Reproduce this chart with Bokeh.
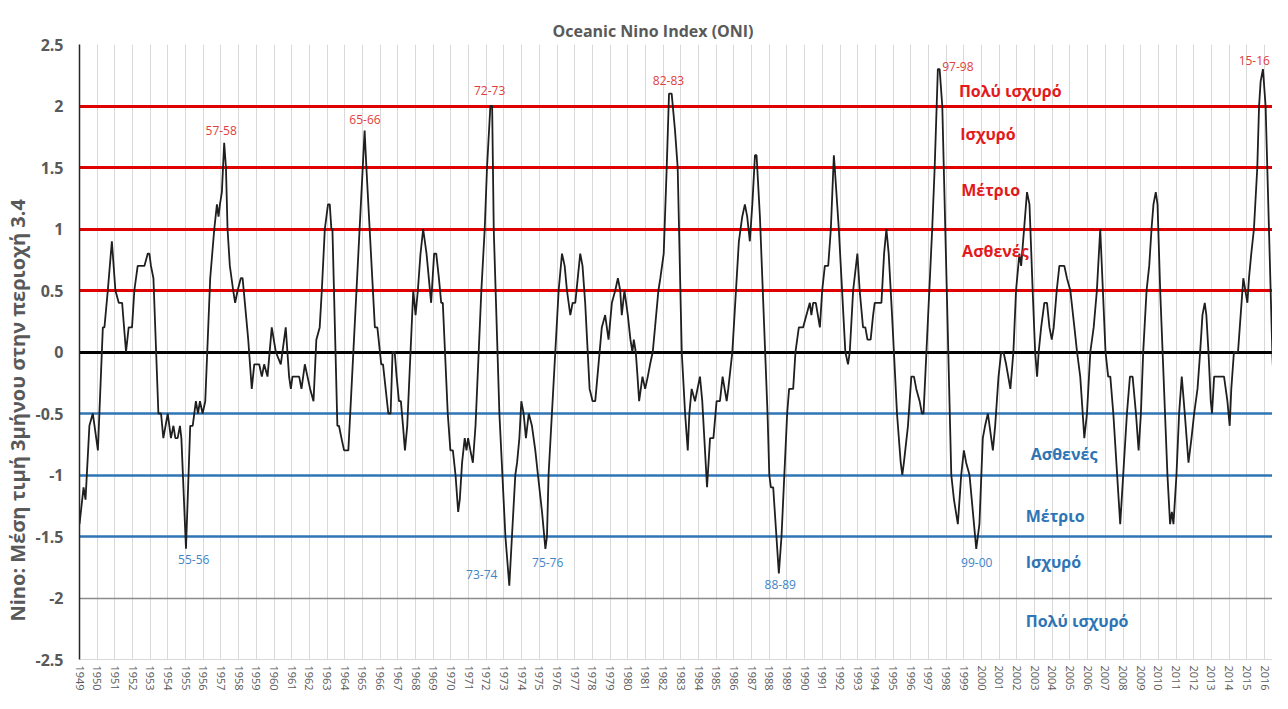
from bokeh.plotting import figure
from bokeh.models import ColumnDataSource, FixedTicker, Title
from bokeh.core.properties import value
from bokeh.embed import file_html
from bokeh.resources import INLINE

# ---- ONI line (x = position on the year axis) ----
x_a = [1949.00, 1949.23, 1949.34, 1949.56, 1949.75, 1949.85, 1950.04, 1950.32, 1950.41, 1950.60,
       1950.83, 1951.03, 1951.22, 1951.41, 1951.63, 1951.78, 1951.97, 1952.10, 1952.29, 1952.67,
       1952.86, 1952.95, 1953.04, 1953.18, 1953.46, 1953.61, 1953.74, 1953.99, 1954.17, 1954.31,
       1954.42, 1954.55, 1954.68, 1954.76, 1955.02, 1955.26, 1955.40, 1955.58, 1955.70, 1955.81,
       1955.96, 1956.11, 1956.39, 1956.62, 1956.77, 1956.86, 1956.94, 1957.05, 1957.18, 1957.28,
       1957.37, 1957.50, 1957.69, 1957.80, 1957.94, 1958.12, 1958.22, 1958.35, 1958.54, 1958.74,
       1958.88, 1959.16, 1959.31, 1959.44, 1959.63, 1959.87, 1960.10]
v_a = [-1.4, -1.1, -1.2, -0.6, -0.5, -0.6, -0.8, 0.2, 0.2, 0.5,
       0.9, 0.5, 0.4, 0.4, 0.0, 0.2, 0.2, 0.5, 0.7, 0.7,
       0.8, 0.8, 0.7, 0.6, -0.5, -0.5, -0.7, -0.5, -0.7, -0.6,
       -0.7, -0.7, -0.6, -0.7, -1.6, -0.6, -0.6, -0.4, -0.5, -0.4,
       -0.5, -0.4, 0.6, 1.0, 1.2, 1.1, 1.2, 1.3, 1.7, 1.5,
       1.0, 0.7, 0.5, 0.4, 0.5, 0.6, 0.6, 0.4, 0.1, -0.3,
       -0.1, -0.1, -0.2, -0.1, -0.2, 0.2, 0.0]

x_b = [1960.38, 1960.66, 1960.85, 1960.95, 1961.04, 1961.42, 1961.55, 1961.74, 1961.89, 1962.04,
       1962.23, 1962.39, 1962.58, 1962.70, 1962.87, 1963.05, 1963.15, 1963.24, 1963.30, 1963.58,
       1963.67, 1963.81, 1963.96, 1964.20, 1965.12, 1965.22, 1965.70, 1965.84, 1966.06, 1966.16,
       1966.46, 1966.59, 1966.70, 1966.82, 1966.93, 1967.06, 1967.17, 1967.29, 1967.40, 1967.53,
       1967.87, 1968.00, 1968.13, 1968.28, 1968.43, 1968.62, 1968.75, 1968.88, 1969.05, 1969.17,
       1969.32, 1969.45, 1969.54, 1969.82, 1969.97, 1970.11, 1970.26, 1970.41, 1970.50, 1970.63,
       1970.78, 1970.88, 1970.97, 1971.10, 1971.24, 1971.39]
v_b = [-0.1, 0.2, -0.2, -0.3, -0.2, -0.2, -0.3, -0.1, -0.2, -0.3,
       -0.4, 0.1, 0.2, 0.5, 1.0, 1.2, 1.2, 1.0, 1.0, -0.6,
       -0.6, -0.7, -0.8, -0.8, 1.8, 1.5, 0.2, 0.2, -0.1, -0.1,
       -0.5, -0.5, 0.0, 0.0, -0.2, -0.4, -0.4, -0.6, -0.8, -0.6,
       0.5, 0.3, 0.5, 0.8, 1.0, 0.8, 0.6, 0.4, 0.8, 0.8,
       0.6, 0.4, 0.4, -0.5, -0.8, -0.8, -1.0, -1.3, -1.2, -0.9,
       -0.7, -0.8, -0.7, -0.8, -0.9, -0.6]

x_c = [1971.57, 1971.72, 1971.91, 1972.04, 1972.23, 1972.33, 1972.42, 1972.74, 1973.08, 1973.30,
       1973.45, 1973.64, 1973.74, 1973.87, 1973.98, 1974.11, 1974.24, 1974.40, 1974.58, 1974.77,
       1974.92, 1975.15, 1975.34, 1975.43, 1975.52, 1976.09, 1976.28, 1976.43, 1976.56, 1976.75,
       1976.88, 1977.03, 1977.31, 1977.44, 1977.59, 1977.84, 1978.01, 1978.16, 1978.53, 1978.72,
       1978.91, 1979.10, 1979.29, 1979.44, 1979.57, 1979.66, 1979.81, 1980.00, 1980.15, 1980.26,
       1980.34, 1980.45, 1980.55, 1980.64, 1980.83, 1980.98, 1981.13, 1981.26, 1981.41, 1981.54,
       1981.73, 1981.84, 1982.03, 1982.20, 1982.33, 1982.48, 1982.67, 1982.82]
v_c = [0.0, 0.5, 1.0, 1.5, 2.0, 2.0, 1.0, -0.5, -1.5, -1.9,
       -1.5, -1.0, -0.9, -0.7, -0.4, -0.5, -0.7, -0.5, -0.6, -0.8,
       -1.0, -1.3, -1.6, -1.5, -1.0, 0.5, 0.8, 0.7, 0.5, 0.3,
       0.4, 0.4, 0.8, 0.7, 0.4, -0.3, -0.4, -0.4, 0.2, 0.3,
       0.1, 0.4, 0.5, 0.6, 0.5, 0.3, 0.5, 0.3, 0.1, 0.0,
       0.1, 0.0, -0.2, -0.4, -0.2, -0.3, -0.2, -0.1, 0.0, 0.2,
       0.5, 0.6, 0.8, 1.5, 2.1, 2.1, 1.8, 1.5]

x_d = [1983.05, 1983.24, 1983.39, 1983.48, 1983.61, 1983.80, 1984.08, 1984.21, 1984.48, 1984.65,
       1984.84, 1985.02, 1985.21, 1985.36, 1985.59, 1985.68, 1985.91, 1986.28, 1986.47, 1986.62,
       1986.75, 1986.90, 1987.04, 1987.19, 1987.28, 1987.47, 1987.90, 1988.00, 1988.09, 1988.22,
       1988.54, 1988.69, 1989.01, 1989.12, 1989.35, 1989.48, 1989.67, 1989.91, 1990.10, 1990.29,
       1990.38, 1990.48, 1990.63, 1990.86, 1990.99, 1991.14, 1991.33, 1991.48, 1991.65, 1991.70,
       1991.93, 1992.30, 1992.45, 1992.55, 1992.74, 1992.98, 1993.11, 1993.30, 1993.43, 1993.55,
       1993.73, 1993.87, 1993.96, 1994.15]
v_d = [0.0, -0.5, -0.8, -0.5, -0.3, -0.4, -0.2, -0.4, -1.1, -0.7,
       -0.7, -0.4, -0.4, -0.2, -0.4, -0.3, 0.0, 0.9, 1.1, 1.2,
       1.1, 0.9, 1.2, 1.6, 1.6, 1.1, -0.5, -1.0, -1.1, -1.1,
       -1.8, -1.5, -0.5, -0.3, -0.3, 0.0, 0.2, 0.2, 0.3, 0.4,
       0.3, 0.4, 0.4, 0.2, 0.5, 0.7, 0.7, 1.0, 1.6, 1.5,
       1.0, 0.0, -0.1, 0.0, 0.5, 0.8, 0.5, 0.2, 0.2, 0.1,
       0.1, 0.3, 0.4, 0.4]

x_e = [1994.34, 1994.49, 1994.62, 1994.75, 1994.94, 1995.22, 1995.43, 1995.52, 1995.61, 1995.84,
       1996.03, 1996.18, 1996.31, 1996.50, 1996.63, 1996.72, 1997.21, 1997.35, 1997.53, 1997.63,
       1997.78, 1998.29, 1998.44, 1998.66, 1998.85, 1999.00, 1999.13, 1999.32, 1999.51, 1999.70,
       1999.88, 2000.07, 2000.20, 2000.36, 2000.64, 2000.77, 2000.96, 2001.11, 2001.24, 2001.39,
       2001.63, 2001.80, 2001.95, 2002.14, 2002.24, 2002.57, 2002.71, 2002.89, 2003.03, 2003.14,
       2003.23, 2003.37, 2003.55, 2003.70, 2003.84, 2003.97, 2004.08, 2004.25, 2004.40, 2004.68,
       2004.83, 2005.02, 2005.25, 2005.40]
v_e = [0.4, 0.8, 1.0, 0.8, 0.3, -0.5, -0.9, -1.0, -0.9, -0.6,
       -0.2, -0.2, -0.3, -0.4, -0.5, -0.5, 1.0, 1.5, 2.3, 2.3,
       2.0, -1.0, -1.2, -1.4, -1.0, -0.8, -0.9, -1.0, -1.3, -1.6,
       -1.4, -0.7, -0.6, -0.5, -0.8, -0.6, -0.2, 0.0, 0.0, -0.1,
       -0.3, 0.0, 0.5, 0.8, 0.7, 1.3, 1.2, 0.5, 0.0, -0.2,
       0.0, 0.2, 0.4, 0.4, 0.2, 0.1, 0.2, 0.5, 0.7, 0.7,
       0.6, 0.5, 0.2, 0.0]

x_f = [2005.58, 2005.72, 2005.81, 2005.96, 2006.15, 2006.34, 2006.52, 2006.71, 2006.86, 2007.01,
       2007.16, 2007.28, 2007.45, 2007.84, 2008.22, 2008.39, 2008.54, 2008.73, 2008.88, 2009.01,
       2009.14, 2009.33, 2009.48, 2009.61, 2009.72, 2009.85, 2009.95, 2010.10, 2010.51, 2010.66,
       2010.76, 2010.85, 2011.02, 2011.17, 2011.32, 2011.49, 2011.70, 2011.87, 2012.02, 2012.21,
       2012.36, 2012.49, 2012.62, 2012.71, 2012.83, 2012.96, 2013.03, 2013.15, 2013.71, 2013.90,
       2014.03, 2014.12, 2014.27, 2014.50, 2014.65, 2014.80, 2015.03, 2015.12, 2015.25, 2015.40,
       2015.59, 2015.69, 2015.78, 2015.91, 2016.06, 2016.25, 2016.44, 2016.57, 2016.68, 2016.81,
       2016.95, 2017.10, 2017.23]
v_f = [-0.2, -0.5, -0.7, -0.5, 0.0, 0.2, 0.5, 1.0, 0.5, 0.0,
       -0.2, -0.2, -0.5, -1.4, -0.5, -0.2, -0.2, -0.5, -0.8, -0.5,
       0.0, 0.5, 0.7, 1.0, 1.2, 1.3, 1.2, 0.5, -1.0, -1.4,
       -1.3, -1.4, -1.0, -0.5, -0.2, -0.5, -0.9, -0.7, -0.5, -0.3,
       0.0, 0.3, 0.4, 0.3, 0.0, -0.4, -0.5, -0.2, -0.2, -0.4,
       -0.6, -0.3, 0.0, 0.0, 0.3, 0.6, 0.4, 0.6, 0.8, 1.0,
       1.5, 2.0, 2.2, 2.3, 2.0, 1.0, 0.0, -0.5, -0.8, -0.8,
       -0.5, 0.0, 0.4]

oni_x = x_a + x_b + x_c + x_d + x_e + x_f
oni_v = v_a + v_b + v_c + v_d + v_e + v_f
assert len(oni_x) == len(oni_v)

# ---- axes ----
year_ticks = list(range(1949, 2018))
y_ticks = [-2.5, -2, -1.5, -1, -0.5, 0, 0.5, 1, 1.5, 2, 2.5]

# ---- threshold lines ----
red_levels = [0.5, 1.0, 1.5, 2.0]
blue_levels = [-0.5, -1.0, -1.5]
gray_levels = [-2.0]
zero_levels = [0.0]

# ---- event labels ----
nino_names = ["57-58", "65-66", "72-73", "82-83", "97-98", "15-16"]
nino_x = [1957.01, 1965.14, 1972.19, 1982.30, 1998.66, 2015.42]
nino_y = [1.80, 1.89, 2.13, 2.21, 2.32, 2.37]

nina_names = ["55-56", "73-74", "75-76", "88-89", "99-00"]
nina_x = [1955.46, 1971.74, 1975.47, 1988.62, 1999.73]
nina_y = [-1.69, -1.81, -1.71, -1.89, -1.71]

red_cat = ["Πολύ ισχυρό", "Ισχυρό", "Μέτριο", "Ασθενές"]
red_cat_x = [1998.72, 1998.80, 1998.85, 1998.90]
red_cat_y = [2.12, 1.77, 1.32, 0.82]

blue_cat = ["Ασθενές", "Μέτριο", "Ισχυρό", "Πολύ ισχυρό"]
blue_cat_x = [2002.78, 2002.50, 2002.50, 2002.50]
blue_cat_y = [-0.83, -1.33, -1.71, -2.19]

FONT = "Open Sans"
GRAY = "#595959"

p = figure(width=1272, height=693, x_range=(1949, 2016.45), y_range=(-2.5, 2.5),
           output_backend="svg", toolbar_location=None, title=None,
           min_border_left=79, min_border_right=0, min_border_top=44, min_border_bottom=33)
p.outline_line_color = None
p.background_fill_color = "white"
p.border_fill_color = "white"

# grid
p.xaxis.ticker = FixedTicker(ticks=year_ticks)
p.yaxis.ticker = FixedTicker(ticks=y_ticks)
p.xgrid.grid_line_color = "#d9d9d9"
p.xgrid.grid_line_width = 1
p.ygrid.grid_line_color = "#e3e3e3"
p.ygrid.grid_line_width = 1

# x axis
p.xaxis.major_label_overrides = {y: str(y) for y in year_ticks}
p.xaxis.major_label_orientation = "vertical"
p.xaxis.major_label_text_font = FONT
p.xaxis.major_label_text_font_size = "11px"
p.xaxis.major_label_text_color = GRAY
p.xaxis.major_label_standoff = 6
p.xaxis.major_tick_out = 0
p.xaxis.major_tick_in = 0
p.xaxis.major_tick_line_color = None
p.xaxis.minor_tick_line_color = None
p.xaxis.axis_line_color = "#d9d9d9"

# y axis
def _key(v):
    return int(v) if float(v).is_integer() else v
p.yaxis.major_label_overrides = {_key(v): (str(int(v)) if float(v).is_integer() else str(v)) for v in y_ticks}
p.yaxis.major_label_text_font = FONT
p.yaxis.major_label_text_font_size = "16px"
p.yaxis.major_label_text_font_style = "bold"
p.yaxis.major_label_text_color = GRAY
p.yaxis.major_tick_line_color = None
p.yaxis.minor_tick_line_color = None
p.yaxis.major_tick_out = 0
p.yaxis.major_tick_in = 0
p.yaxis.major_label_standoff = 16
p.yaxis.axis_line_color = "#262626"
p.yaxis.axis_line_width = 1.5

# titles
p.add_layout(Title(text="Oceanic Nino Index (ONI)", align="left", offset=473,
                   text_font=FONT, text_font_size="16px", text_font_style="bold",
                   text_color=GRAY, standoff=6), "above")
p.add_layout(Title(text="Nino: Μέση τιμή 3μήνου στην περιοχή 3.4", align="left", offset=38,
                   vertical_align="middle", text_font=FONT, text_font_size="20px",
                   text_font_style="bold", text_color=GRAY, standoff=2), "left")

# threshold lines
p.hspan(y=gray_levels, line_color="#8c8c8c", line_width=1.5)
p.hspan(y=blue_levels, line_color="#2e75b6", line_width=2.5)
p.hspan(y=red_levels, line_color="#e00000", line_width=3)
p.hspan(y=zero_levels, line_color="#000000", line_width=3)

# ONI line
src = ColumnDataSource(dict(x=oni_x, y=oni_v))
p.line("x", "y", source=src, line_color="#1f1f1f", line_width=1.8)

# labels
p.text(x=nino_x, y=nino_y, text=nino_names, text_font=value(FONT), text_font_size=value("12px"),
       text_color="#e0403c", text_align="center", text_baseline="middle")
p.text(x=nina_x, y=nina_y, text=nina_names, text_font=value(FONT), text_font_size=value("12px"),
       text_color="#3d85c6", text_align="center", text_baseline="middle")
p.text(x=red_cat_x, y=red_cat_y, text=red_cat, text_font=value(FONT), text_font_size=value("16px"),
       text_font_style="bold", text_color="#e3191c", text_align="left", text_baseline="middle")
p.text(x=blue_cat_x, y=blue_cat_y, text=blue_cat, text_font=value(FONT), text_font_size=value("16px"),
       text_font_style="bold", text_color="#2e75b6", text_align="left", text_baseline="middle")

open("out.html", "w").write(file_html(p, INLINE))
